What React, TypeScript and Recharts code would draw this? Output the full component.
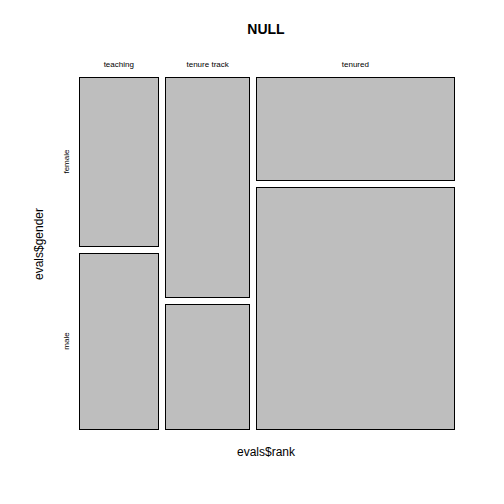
import React from 'react';
import { ComposedChart, XAxis, YAxis, ReferenceArea, Scatter } from 'recharts';

// evals: counts of gender within each rank
const ranks = ['teaching', 'tenure track', 'tenured'];
const genders = ['female', 'male'];
const femaleCounts = [50, 69, 76];
const maleCounts = [52, 39, 177];

const gapX = 0.0194;
const gapY = 0.0203;

const total = ranks.reduce((s, _, i) => s + femaleCounts[i] + maleCounts[i], 0);

type Cell = { rank: string; gender: string; x1: number; x2: number; y1: number; y2: number };
const cells: Cell[] = [];
const colCenters: number[] = [];
let cum = 0;
ranks.forEach((rank, i) => {
  const n = femaleCounts[i] + maleCounts[i];
  const x1 = cum + i * gapX;
  const x2 = x1 + n / total;
  cum += n / total;
  colCenters.push((x1 + x2) / 2);
  const pf = femaleCounts[i] / n;
  cells.push({ rank, gender: genders[0], x1, x2, y1: 0, y2: pf });
  cells.push({ rank, gender: genders[1], x1, x2, y1: pf + gapY, y2: 1 + gapY });
});

// gender labels sit beside the first column
const pf0 = femaleCounts[0] / (femaleCounts[0] + maleCounts[0]);
const rowCenters = [pf0 / 2, pf0 + gapY + (1 - pf0) / 2];

const font = '"Liberation Sans", Arial, sans-serif';

const TopTick = (props: any) => {
  const { x, y, index } = props;
  return (
    <text x={x} y={y} dy={-8} textAnchor="middle" fontSize={8} fontFamily={font} fill="#000">
      {ranks[index]}
    </text>
  );
};

const LeftTick = (props: any) => {
  const { x, y, index } = props;
  return (
    <text
      transform={`translate(${x - 11},${y}) rotate(-90)`}
      textAnchor="middle"
      dy={3}
      fontSize={8}
      fontFamily={font}
      fill="#000"
    >
      {genders[index]}
    </text>
  );
};

const Tile = (props: any) => {
  const { x, y, width, height } = props;
  return (
    <rect
      x={x}
      y={y}
      width={width}
      height={height}
      fill="#bebebe"
      stroke="#000"
      strokeWidth={1}
      shapeRendering="crispEdges"
    />
  );
};

export default function App() {
  return (
    <div style={{ position: 'absolute', left: 0, top: 0, width: 504, height: 504, background: '#fff', fontFamily: font }}>
      <div style={{ position: 'absolute', left: 0, width: 532, top: 21, textAlign: 'center', fontSize: 14, fontWeight: 'bold' }}>
        NULL
      </div>
      <div style={{ position: 'absolute', left: 0, width: 532, top: 445, textAlign: 'center', fontSize: 12 }}>
        evals$rank
      </div>
      <div
        style={{
          position: 'absolute',
          left: 39,
          top: 244,
          transform: 'translate(-50%, -50%) rotate(-90deg)',
          fontSize: 12,
          whiteSpace: 'nowrap',
        }}
      >
        evals$gender
      </div>
      <ComposedChart
        width={504}
        height={504}
        data={cells}
        margin={{ top: 57, right: 50, bottom: 75, left: 59 }}
        style={{ position: 'absolute', left: 0, top: 0 }}
      >
        <XAxis
          xAxisId="x"
          dataKey="x1"
          orientation="top"
          type="number"
          domain={[0, 1 + 2 * gapX]}
          allowDataOverflow
          ticks={colCenters}
          tick={<TopTick />}
          tickLine={false}
          axisLine={false}
          tickSize={0}
          height={20}
          interval={0}
        />
        <YAxis
          yAxisId="y"
          dataKey="y1"
          type="number"
          reversed
          domain={[0, 1 + gapY]}
          allowDataOverflow
          ticks={rowCenters}
          tick={<LeftTick />}
          tickLine={false}
          axisLine={false}
          tickSize={0}
          width={20}
          interval={0}
        />
        <Scatter
          xAxisId="x"
          yAxisId="y"
          data={cells}
          dataKey="y1"
          shape={() => <g />}
          isAnimationActive={false}
        />
        {cells.map((c) => (
          <ReferenceArea
            key={c.rank + c.gender}
            xAxisId="x"
            yAxisId="y"
            x1={c.x1}
            x2={c.x2}
            y1={c.y1}
            y2={c.y2}
            shape={<Tile />}
            ifOverflow="visible"
          />
        ))}
      </ComposedChart>
    </div>
  );
}
